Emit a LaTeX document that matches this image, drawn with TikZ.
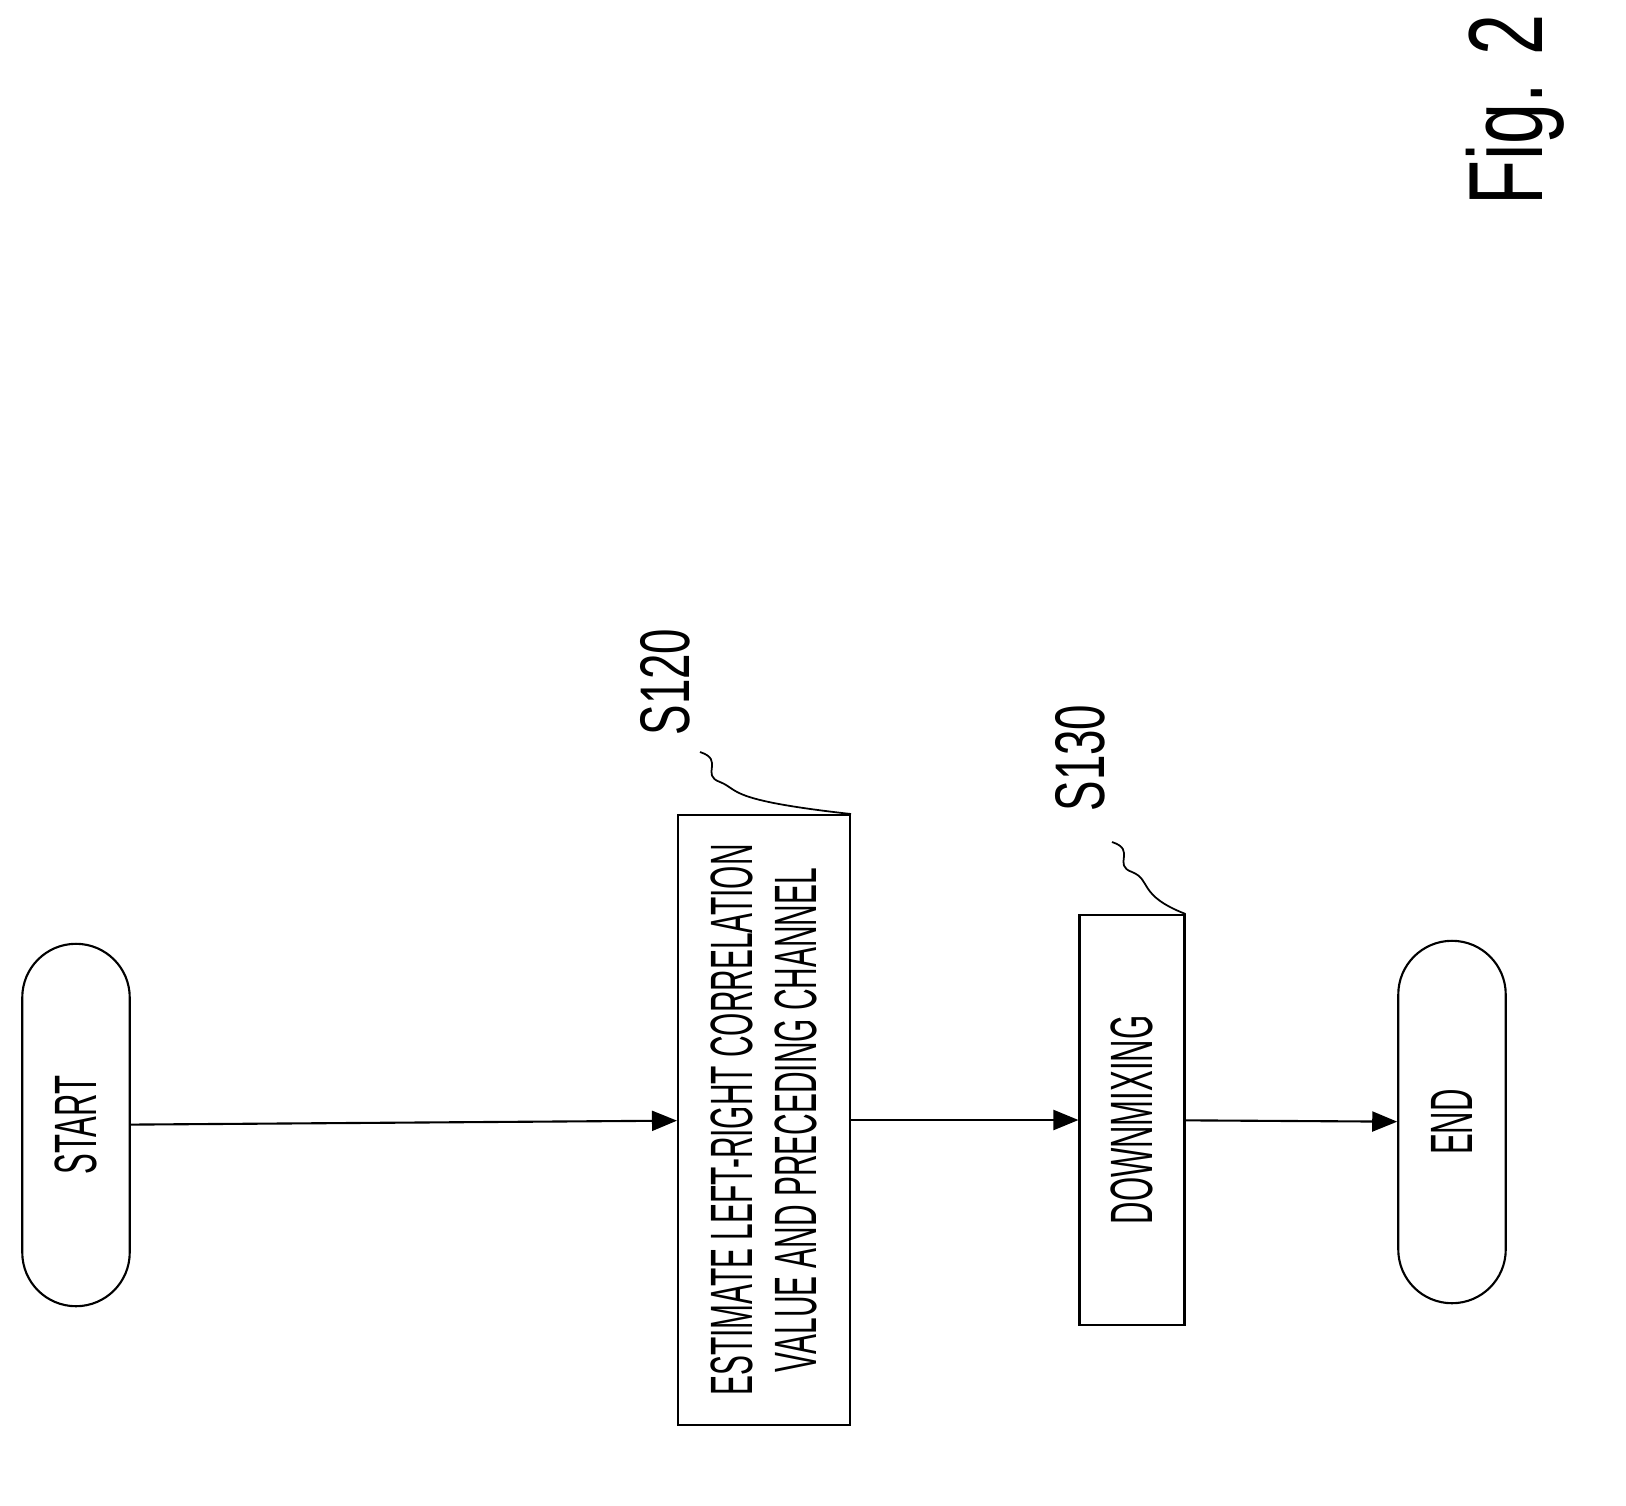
\documentclass[tikz,border=0pt]{standalone}
\usepackage{fontspec}
\usepackage{graphicx}
\setmainfont{Liberation Sans}
\usetikzlibrary{arrows.meta,shapes.misc}

\begin{document}
\begin{tikzpicture}[x=0.02cm,y=-0.02cm]
\tikzset{every node/.style={inner sep=0pt},
  terminal/.style={draw,line width=1.2pt,rounded rectangle,rotate=90,minimum width=7.25cm,minimum height=2.15cm,font=\fontsize{34}{38}\selectfont},
  stepbox/.style={draw,line width=1.2pt,rectangle,rotate=90,font=\fontsize{34}{38}\selectfont},
  flow/.style={line width=1.2pt,-{Triangle[length=0.5cm,width=0.4cm]}},
  steplabel/.style={rotate=90,font=\fontsize{40}{44}\selectfont}}
\useasboundingbox (0,0) rectangle (1626,1505);
% terminals and steps
\node[terminal] (start) at (76,1125) {\scalebox{0.52}[1]{START}};
\node[stepbox,minimum width=12.2cm,minimum height=3.44cm,align=center] (estimate) at (764,1120)
  {\scalebox{0.5}[1]{ESTIMATE LEFT-RIGHT CORRELATION}\\[-2pt]\scalebox{0.5}[1]{VALUE AND PRECEDING CHANNEL}};
\node[stepbox,minimum width=8.2cm,minimum height=2.1cm] (downmix) at (1132,1120) {\scalebox{0.52}[1]{DOWNMIXING}};
\node[terminal] (finish) at (1452,1122) {\scalebox{0.52}[1]{END}};
% step labels
\node[steplabel] (s120) at (665,682) {\scalebox{0.65}[1]{S120}};
\node[steplabel] (s130) at (1080,758) {\scalebox{0.65}[1]{S130}};
\node[rotate=90,font=\fontsize{60}{66}\selectfont] (fig) at (1515,110) {\scalebox{0.7}[1]{Fig. 2}};
% connectors
\draw[flow] (start) -- (estimate);
\draw[flow] (estimate) -- (downmix);
\draw[flow] (downmix) -- (finish);
\draw[line width=1pt] (700,752) .. controls (725,760) and (700,775) .. (720,782)
  .. controls (740,790) and (725,800) .. (estimate.south east);
\draw[line width=1pt] (1112,842) .. controls (1137,850) and (1112,865) .. (1132,872)
  .. controls (1152,880) and (1137,895) .. (downmix.south east);
\end{tikzpicture}
\end{document}
